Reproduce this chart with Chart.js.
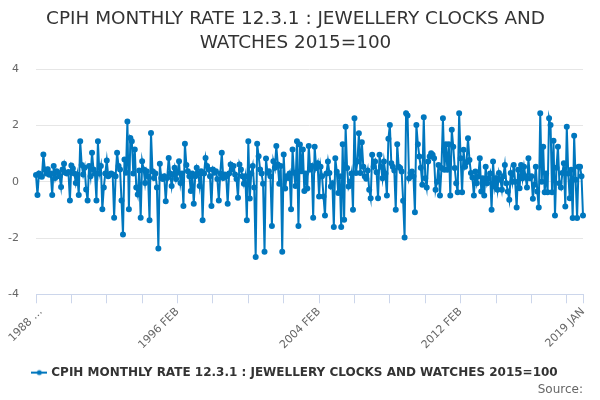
<!DOCTYPE html>
<html>
<head>
<meta charset="utf-8">
<script src="https://cdn.jsdelivr.net/npm/chart.js@4.4.1/dist/chart.umd.min.js"></script>
<style>
  html, body { margin: 0; padding: 0; background: #fff; }
  #wrap { width: 600px; height: 400px; }
</style>
</head>
<body>
<div id="wrap"><canvas id="chart"></canvas></div>
<script>
// monthly series, first point is 1988 FEB, last is 2019 JAN
const startYear = 1988;
const startMonth = 1;
const monthNames = ["JAN", "FEB", "MAR", "APR", "MAY", "JUN", "JUL", "AUG", "SEP", "OCT", "NOV", "DEC"];

const rates = [
  0.24, -0.47, 0.3, 0.2, 0.18, 0.97, 0.44, 0.3, 0.45, 0.25, 0.3, -0.47,
  0.56, 0.14, 0.38, 0.32, 0.2, -0.18, 0.44, 0.64, 0.32, 0.3, 0.35, -0.66,
  0.58, 0.47, 0.3, -0.04, 0.25, -0.47, 1.44, 0.6, 0.26, 0.5, -0.27, -0.66,
  0.56, 0.2, 1.03, 0.44, 0.3, -0.66, 1.44, 0.3, 0.56, -0.98, -0.2, 0.3,
  0.76, 0.2, 0.26, 0.3, 0.26, -1.28, 0.2, 1.03, 0.56, 0.44, -0.66, -1.87,
  0.79, 0.32, 2.15, -0.98, 1.56, 1.44, 0.3, 1.15, -0.2, -0.45, 0.4, -1.28,
  0.73, 0.44, -0.04, 0.38, 0.2, -1.37, 1.74, 0.38, 0.14, 0.3, -0.2, -2.37,
  0.64, 0.14, 0.1, 0.2, -0.69, 0.14, 0.85, 0.3, -0.15, 0.26, 0.5, 0.1,
  0.32, 0.73, -0.04, 0.3, -0.86, 1.35, 0.6, 0.38, 0.2, -0.33, 0.3, -0.78,
  0.2, 0.5, 0.3, -0.15, 0.38, -1.37, 0.3, 0.85, 0.56, 0.44, 0.2, -0.86,
  0.44, 0.32, 0.38, 0.1, -0.66, 0.3, 1.03, 0.14, 0.26, 0.2, -0.78, 0.3,
  0.62, 0.44, 0.56, 0.26, 0.1, -0.57, 0.62, 0.44, 0.2, -0.07, 0.2, -1.37,
  1.44, -0.59, 0.3, 0.56, -0.2, -2.67, 1.35, 0.91, 0.44, 0.3, -0.07, -2.49,
  0.83, 0.32, 0.38, 0.2, -1.57, 0.73, 0.5, 1.27, 0.62, -0.07, 0.56, -2.49,
  0.97, -0.24, 0.2, 0.14, 0.3, -0.98, 1.15, 0.32, -0.15, 1.44, -1.57, 1.33,
  0.38, 1.15, -0.33, 0.3, -0.24, 1.27, 0.44, 0.56, -1.28, 1.25, 0.49, 0.66,
  -0.52, 0.54, 0.2, -0.52, -1.2, 0.3, 0.72, 0.31, -0.17, -0.05, -1.61, 0.84,
  0.36, -0.4, 0.2, -1.61, 1.34, -1.35, 1.96, 0.49, -0.17, 0.0, 0.3, -0.99,
  2.26, 0.31, 0.72, 1.73, 0.31, 1.41, 0.54, 0.19, 0.11, 0.4, -0.28, -0.58,
  0.96, 0.54, 0.72, 0.34, -0.58, 0.96, 0.54, 0.13, 0.72, 0.3, -0.49, 1.53,
  2.02, 0.66, 0.54, 0.4, -0.99, 1.34, 0.54, 0.49, 0.37, -0.67, -1.98, 2.44,
  2.36, 0.13, 0.31, 0.37, 0.2, -1.08, 2.02, 1.34, 0.9, 0.5, -0.1, 2.3,
  0.13, -0.2, 0.72, 0.9, 1.02, 0.96, 0.84, -0.28, 0.0, 0.6, -0.49, 0.49,
  2.26, 0.43, 1.34, 0.43, 1.34, -0.49, 1.85, 1.25, 0.49, -0.05, -0.37, 2.44,
  0.84, -0.37, 1.14, 0.54, 0.7, 1.55, 0.78, 0.31, 0.15, -0.49, 0.37, -0.05,
  0.2, 0.84, -0.34, 0.13, -0.49, 0.54, -0.05, 0.13, 0.3, -0.99, 0.72, -0.17,
  0.13, -0.28, 0.31, 0.07, -0.28, 0.2, 0.6, -0.05, -0.34, -0.64, 0.31, 0.0,
  0.6, 0.0, -0.91, 0.43, -0.23, 0.6, 0.13, 0.54, 0.2, -0.2, 0.84, 0.13,
  0.2, -0.6, -0.1, 0.54, -0.34, -0.91, 2.44, 0.0, 1.25, -0.37, 0.3, -0.37,
  2.26, 2.02, -0.37, 1.46, -1.2, 0.5, 1.25, -0.05, -0.2, 0.31, 0.66, -0.88,
  1.96, 0.3, -0.58, 0.43, -1.29, 1.64, 0.07, -1.29, 0.54, 0.54, 0.2, -1.2
];

// labels written under the axis (the first one is cut short in the original)
const shownLabels = ["1988 FEB", "1996 FEB", "2004 FEB", "2012 FEB", "2019 JAN"];
const firstLabelText = "1988 …";
const tickEvery = 24;

const seriesName = "CPIH MONTHLY RATE 12.3.1 : JEWELLERY CLOCKS AND WATCHES 2015=100";
const titleLines = ["CPIH MONTHLY RATE 12.3.1 : JEWELLERY CLOCKS AND", "WATCHES 2015=100"];

const labels = [];
for (let i = 0; i < rates.length; i++) {
  const m = startMonth + i;
  labels.push((startYear + Math.floor(m / 12)) + " " + monthNames[m % 12]);
}

const lineColor = "#0077be";

// little legend symbol: a line with a dot in the middle
const legendIcon = document.createElement("canvas");
legendIcon.width = 16;
legendIcon.height = 8;
const ic = legendIcon.getContext("2d");
ic.strokeStyle = lineColor;
ic.lineWidth = 2;
ic.beginPath();
ic.moveTo(0, 4);
ic.lineTo(16, 4);
ic.stroke();
ic.fillStyle = lineColor;
ic.beginPath();
ic.arc(8, 4, 2.5, 0, Math.PI * 2);
ic.fill();

// the first slanted label hangs out past the left edge of the plot in the original,
// so it is drawn here instead of letting chart.js pad the chart for it
const firstLabelPlugin = {
  id: "firstLabel",
  afterDraw(chart) {
    const xs = chart.scales.x;
    const items = xs.getLabelItems();
    const ref = items.find(it => it.label === shownLabels[1]);
    if (!ref) return;
    const ctx = chart.ctx;
    ctx.save();
    ctx.translate(xs.getPixelForValue(0), ref.options.translation[1]);
    ctx.rotate(ref.options.rotation);
    ctx.font = ref.font.string;
    ctx.fillStyle = "#666666";
    ctx.textAlign = ref.options.textAlign;
    ctx.textBaseline = ref.options.textBaseline;
    ctx.fillText(firstLabelText, 0, ref.textOffset);
    ctx.restore();
  }
};

new Chart(document.getElementById("chart"), {
  type: "line",
  data: {
    labels: labels,
    datasets: [{
      label: seriesName,
      data: rates,
      borderColor: lineColor,
      backgroundColor: lineColor,
      borderWidth: 2,
      pointRadius: 2,
      pointHoverRadius: 3,
      tension: 0
    }]
  },
  plugins: [firstLabelPlugin],
  options: {
    responsive: true,
    maintainAspectRatio: false,
    animation: false,
    layout: { padding: { left: 8, right: 17, top: 4, bottom: 9 } },
    plugins: {
      title: {
        display: true,
        text: titleLines,
        color: "#333333",
        font: { family: "DejaVu Sans", size: 18.4, weight: "normal", lineHeight: 1.26 },
        padding: { top: 4, bottom: 15 }
      },
      subtitle: {
        display: true,
        text: "Source:",
        position: "bottom",
        align: "end",
        color: "#666666",
        font: { family: "DejaVu Sans", size: 12, weight: "normal", lineHeight: 0.2 },
        padding: { top: 0, bottom: 0 }
      },
      legend: {
        position: "bottom",
        labels: {
          color: "#333333",
          font: { family: "DejaVu Sans", size: 12, weight: "bold" },
          usePointStyle: true,
          boxWidth: 16,
          boxHeight: 8,
          padding: 6,
          generateLabels: function (chart) {
            return [{
              text: seriesName,
              pointStyle: legendIcon,
              fillStyle: lineColor,
              strokeStyle: lineColor,
              lineWidth: 0,
              datasetIndex: 0,
              fontColor: "#333333"
            }];
          }
        }
      },
      tooltip: { enabled: false }
    },
    scales: {
      x: {
        afterFit: function (scale) {
          scale.height += 7;
        },
        grid: {
          drawOnChartArea: false,
          drawTicks: true,
          tickLength: 9,
          color: "#ccd6eb"
        },
        border: { display: true, color: "#ccd6eb" },
        ticks: {
          autoSkip: false,
          minRotation: 45,
          maxRotation: 45,
          color: "#666666",
          font: { family: "DejaVu Sans", size: 11 },
          padding: 2,
          callback: function (value, index) {
            const last = rates.length - 1;
            if (index % tickEvery !== 0 && index !== last) return null;
            const lab = labels[index];
            if (index === 0 || !shownLabels.includes(lab)) return "";
            return lab;
          }
        }
      },
      y: {
        min: -4,
        max: 4,
        afterFit: function (scale) {
          scale.width = 28;
        },
        grid: { color: "#e6e6e6", drawTicks: false },
        border: { display: false },
        ticks: {
          stepSize: 2,
          color: "#666666",
          font: { family: "DejaVu Sans", size: 11 },
          padding: 17
        }
      }
    }
  }
});
</script>
</body>
</html>
